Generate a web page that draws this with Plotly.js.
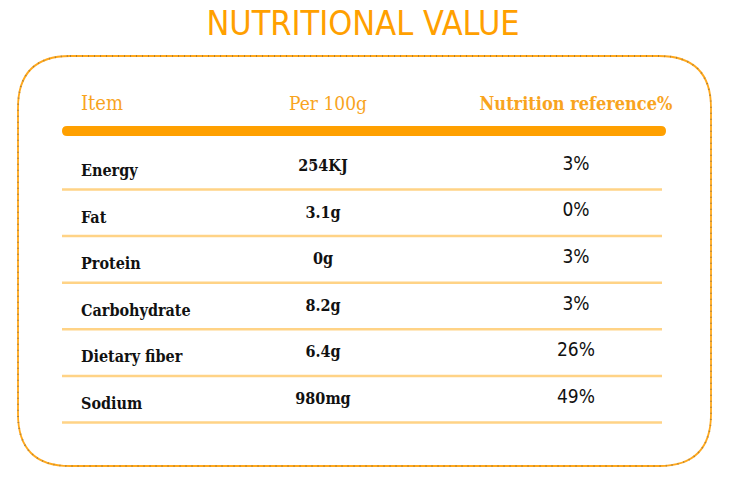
<!DOCTYPE html>
<html>
<head>
<meta charset="utf-8">
<script src="https://cdn.plot.ly/plotly-3.0.1.min.js"></script>
<style>html,body{margin:0;padding:0;background:#fff;}#chart{width:750px;height:495px;}</style>
</head>
<body>
<div id="chart"></div>
<script>
// ---- data ----
const chartTitle = 'NUTRITIONAL VALUE';
const headers = ['Item', 'Per 100g', 'Nutrition reference%'];
const items = ['Energy', 'Fat', 'Protein', 'Carbohydrate', 'Dietary fiber', 'Sodium'];
const per100g = ['254KJ', '3.1g', '0g', '8.2g', '6.4g', '980mg'];
const nrv = ['3%', '0%', '3%', '3%', '26%', '49%'];

// ---- layout constants (pixel-like axis units) ----
const COL_X = [81, 323, 576];
const COL_DY = [0, -5, -7];
const ROW0 = 172, STEP = 46.6, HEADER_Y = 105;
const ORANGE = '#FFA000';
const SLAB = '"DejaVu Serif Condensed", "DejaVu Serif", serif';
const COND = '"DejaVu Sans Condensed", "DejaVu Sans", sans-serif';

const rowY = (i, dy) => ROW0 + STEP * i + (dy || 0);

const traces = [
  {
    x: items.map(() => COL_X[0]), y: items.map((_, i) => rowY(i, COL_DY[0])),
    text: items, mode: 'text', textposition: 'middle right',
    textfont: {family: SLAB, size: 16, color: '#111', weight: 700}
  },
  {
    x: per100g.map(() => COL_X[1]), y: per100g.map((_, i) => rowY(i, COL_DY[1])),
    text: per100g, mode: 'text', textposition: 'middle center',
    textfont: {family: SLAB, size: 16, color: '#111', weight: 700}
  },
  {
    x: nrv.map(() => COL_X[2]), y: nrv.map((_, i) => rowY(i, COL_DY[2])),
    text: nrv, mode: 'text', textposition: 'middle center',
    textfont: {family: COND, size: 19, color: '#111'}
  },
  {
    x: [COL_X[0]], y: [HEADER_Y], text: [headers[0]], mode: 'text', textposition: 'middle right',
    textfont: {family: SLAB, size: 20, color: '#F8A41E'}
  },
  {
    x: [COL_X[1] + 5], y: [HEADER_Y], text: [headers[1]], mode: 'text', textposition: 'middle center',
    textfont: {family: SLAB, size: 19, color: '#F8A41E'}
  },
  {
    x: [COL_X[2]], y: [HEADER_Y], text: [headers[2]], mode: 'text', textposition: 'middle center',
    textfont: {family: SLAB, size: 18, color: '#F8A41E', weight: 700}
  }
];

function roundRect(x0, y0, x1, y1, r) {
  return `M ${x0 + r},${y0} L ${x1 - r},${y0} Q ${x1},${y0} ${x1},${y0 + r} ` +
         `L ${x1},${y1 - r} Q ${x1},${y1} ${x1 - r},${y1} L ${x0 + r},${y1} ` +
         `Q ${x0},${y1} ${x0},${y1 - r} L ${x0},${y0 + r} Q ${x0},${y0} ${x0 + r},${y0} Z`;
}

const shapes = [];
const border = roundRect(18, 56, 711, 466, 52);
shapes.push({type: 'path', xref: 'x', yref: 'y', path: border, line: {color: '#FFA81C', width: 1.8}});
shapes.push({type: 'path', xref: 'x', yref: 'y', path: border, line: {color: 'rgba(80,80,80,0.45)', width: 2, dash: '1px,5px'}});
shapes.push({type: 'path', xref: 'x', yref: 'y', path: roundRect(62, 126, 666, 136, 5),
  fillcolor: ORANGE, line: {width: 0}});
items.forEach((_, i) => {
  const y = rowY(i, 17.5);
  shapes.push({type: 'line', xref: 'x', yref: 'y', x0: 62, x1: 662, y0: y, y1: y,
    line: {color: '#FFD386', width: 2.5}});
});

const layout = {
  width: 750, height: 495,
  margin: {l: 0, r: 0, t: 0, b: 0},
  paper_bgcolor: '#fff', plot_bgcolor: '#fff',
  showlegend: false, hovermode: false,
  title: {text: chartTitle, x: 363 / 750, xanchor: 'center', xref: 'paper',
    y: 1 - 23 / 495, yanchor: 'middle', yref: 'container',
    font: {family: COND, size: 34, color: ORANGE}},
  xaxis: {range: [0, 750], visible: false, fixedrange: true},
  yaxis: {range: [495, 0], visible: false, fixedrange: true},
  shapes: shapes
};

Plotly.newPlot('chart', traces, layout, {displayModeBar: false, staticPlot: true});
</script>
</body>
</html>
